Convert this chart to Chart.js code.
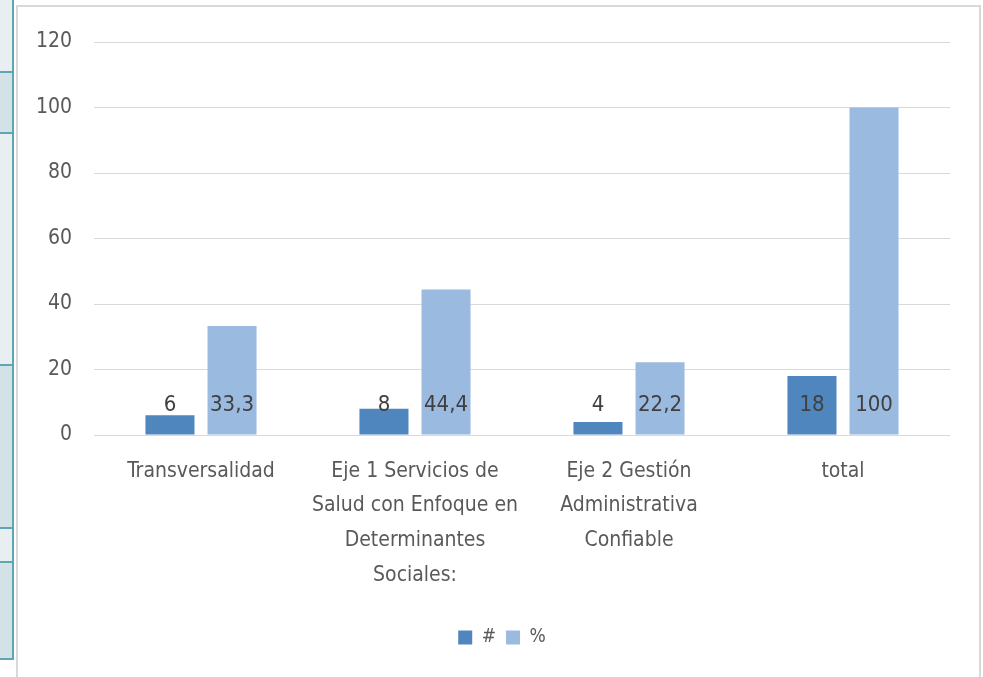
<!DOCTYPE html>
<html>
<head>
<meta charset="utf-8">
<script src="https://cdn.jsdelivr.net/npm/chart.js@4/dist/chart.umd.min.js"></script>
<style>
  body { margin: 0; background: #fff; }
  #wrap { position: relative; width: 983px; height: 677px; overflow: hidden; }
  .strip { position: absolute; left: 0; width: 12px; border-right: 2px solid #5ea5b6; }
  .sep { position: absolute; left: 0; width: 14px; height: 2px; background: #5ea5b6; }
  #frame { position: absolute; left: 16px; top: 5px; width: 961px; height: 700px; border: 2px solid #d9d9d9; }
  canvas { position: absolute; left: 0; top: 0; }
</style>
</head>
<body>
<div id="wrap">
  <!-- fragmento de tabla a la izquierda -->
  <div class="strip" style="top:0;height:72px;background:#e9eff1"></div>
  <div class="strip" style="top:72px;height:61px;background:#d3e2e7"></div>
  <div class="strip" style="top:133px;height:232px;background:#e9eff1"></div>
  <div class="strip" style="top:365px;height:163px;background:#d3e2e7"></div>
  <div class="strip" style="top:528px;height:34px;background:#e9eff1"></div>
  <div class="strip" style="top:562px;height:97px;background:#d3e2e7"></div>
  <div class="sep" style="top:71px"></div>
  <div class="sep" style="top:132px"></div>
  <div class="sep" style="top:364px"></div>
  <div class="sep" style="top:527px"></div>
  <div class="sep" style="top:561px"></div>
  <div class="sep" style="top:658px"></div>
  <div id="frame"></div>
  <canvas id="grafico" width="983" height="677"></canvas>
</div>
<script>
var categorias = [
    ["Transversalidad"],
    ["Eje 1 Servicios de", "Salud con Enfoque en", "Determinantes", "Sociales:"],
    ["Eje 2 Gestión", "Administrativa", "Confiable"],
    ["total"]
];
var cantidad = [6, 8, 4, 18];
var porcentaje = [33.3, 44.4, 22.2, 100];
var ticksY = [0, 20, 40, 60, 80, 100, 120];

var fuente = "'Liberation Sans Narrow', 'DejaVu Sans Condensed', sans-serif";

// etiquetas de datos, en la base de cada barra (como Excel)
var etiquetas = {
    id: 'etiquetas',
    afterLayout: function (chart) {
        // la leyenda queda centrada respecto al area del grafico
        chart.legend.left = 54;
    },
    afterDatasetsDraw: function (chart) {
        var ctx = chart.ctx;
        var base = chart.scales.y.getPixelForValue(0);
        ctx.save();
        ctx.font = '22px ' + fuente;
        ctx.fillStyle = '#404040';
        ctx.textAlign = 'center';
        ctx.textBaseline = 'middle';
        chart.data.datasets.forEach(function (ds, i) {
            chart.getDatasetMeta(i).data.forEach(function (bar, j) {
                var txt = String(ds.data[j]).replace('.', ',');
                ctx.fillText(txt, bar.x, base - 30);
            });
        });
        ctx.restore();
    }
};

var ctx = document.getElementById('grafico').getContext('2d');
var grafico = new Chart(ctx, {
    type: 'bar',
    data: {
        labels: categorias,
        datasets: [{
            label: '#',
            data: cantidad,
            backgroundColor: '#4f86bd'
        }, {
            label: '%',
            data: porcentaje,
            backgroundColor: '#9bbae0'
        }]
    },
    options: {
        responsive: false,
        animation: false,
        layout: { padding: { top: 42, right: 33, bottom: 20, left: 0 } },
        datasets: { bar: { categoryPercentage: 0.58, barPercentage: 0.79 } },
        plugins: {
            tooltip: { enabled: false },
            legend: {
                position: 'bottom',
                labels: {
                    font: { family: fuente, size: 19 },
                    color: '#595959',
                    boxWidth: 14,
                    boxHeight: 14,
                    padding: 10
                }
            }
        },
        scales: {
            x: {
                grid: { display: false },
                border: { display: false },
                ticks: {
                    font: { family: fuente, size: 21, lineHeight: 1.65 },
                    color: '#595959',
                    padding: 11,
                    maxRotation: 0
                },
                afterFit: function (s) { s.height = 183; }
            },
            y: {
                min: 0,
                max: 120,
                afterBuildTicks: function (s) { s.ticks = ticksY.map(function (v) { return { value: v }; }); },
                grid: { color: '#d9d9d9', drawTicks: false, lineWidth: 1 },
                border: { display: false },
                ticks: {
                    font: { family: fuente, size: 21 },
                    color: '#595959',
                    padding: 22
                },
                afterFit: function (s) { s.width = 94; }
            }
        }
    },
    plugins: [etiquetas]
});
</script>
</body>
</html>
